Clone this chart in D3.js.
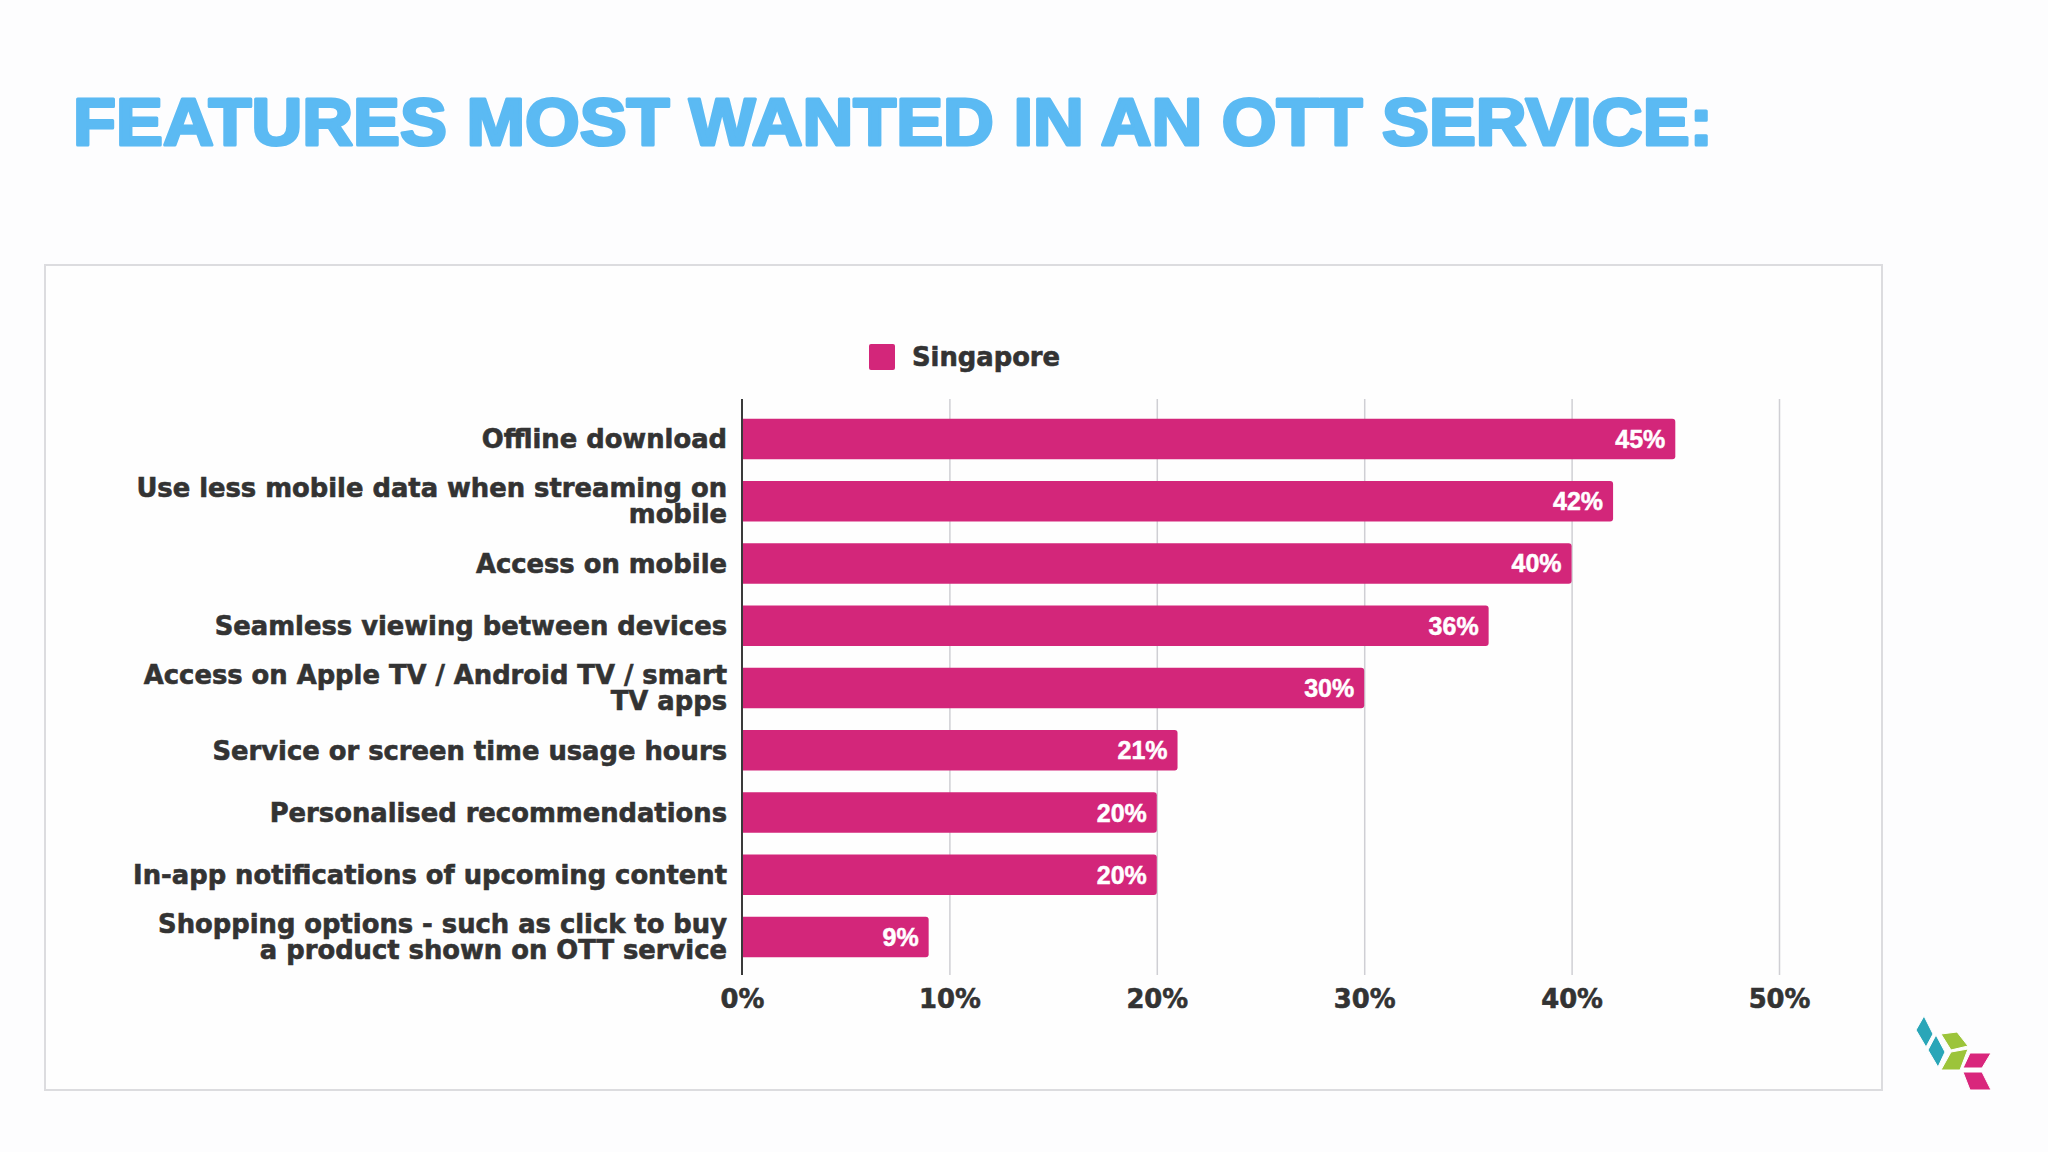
<!DOCTYPE html>
<html>
<head>
<meta charset="utf-8">
<script src="https://cdn.jsdelivr.net/npm/d3@7/dist/d3.min.js"></script>
<style>
  html, body { margin: 0; padding: 0; background: #fdfdfe; }
  svg { display: block; }
</style>
</head>
<body>
<svg id="chart" width="2048" height="1152"></svg>
<script>
const titleText = "FEATURES MOST WANTED IN AN OTT SERVICE:";
const seriesName = "Singapore";
const categories = [
  ["Offline download"],
  ["Use less mobile data when streaming on", "mobile"],
  ["Access on mobile"],
  ["Seamless viewing between devices"],
  ["Access on Apple TV / Android TV / smart", "TV apps"],
  ["Service or screen time usage hours"],
  ["Personalised recommendations"],
  ["In-app notifications of upcoming content"],
  ["Shopping options - such as click to buy", "a product shown on OTT service"]
];
const values = [45, 42, 40, 36, 30, 21, 20, 20, 9];
const xTicks = [0, 10, 20, 30, 40, 50];

const barColor = "#d3267a";
const textColor = "#333333";
const labelFont = "'DejaVu Sans', sans-serif";
const labelSize = 25.8;

const svg = d3.select("#chart");

// Title
svg.append("text")
  .attr("x", 73).attr("y", 145)
  .attr("font-family", "'Liberation Sans', Arial, sans-serif")
  .attr("font-weight", "bold")
  .attr("font-size", 66)
  .attr("fill", "#5bbaf3")
  .attr("stroke", "#5bbaf3").attr("stroke-width", 3).attr("stroke-linejoin", "round")
  .attr("textLength", 1640)
  .attr("lengthAdjust", "spacingAndGlyphs")
  .text(titleText);

// Chart frame
svg.append("rect")
  .attr("x", 45).attr("y", 265)
  .attr("width", 1837).attr("height", 825)
  .attr("fill", "#fefefe")
  .attr("stroke", "#dcdcdf").attr("stroke-width", 2);

const x = d3.scaleLinear().domain([0, 50]).range([742, 1779]);
const y = d3.scaleBand().domain(d3.range(categories.length))
  .range([400, 976]).paddingInner(0.35).paddingOuter(0.3);

// Grid lines
const grid = svg.append("g")
  .attr("transform", `translate(0,975)`)
  .call(d3.axisBottom(x).tickValues(xTicks.slice(1)).tickSize(-576).tickFormat(""));
grid.select(".domain").remove();
grid.selectAll("line").attr("stroke", "#cfcfd4").attr("stroke-width", 1.5);

// Bars
svg.append("g").selectAll("path")
  .data(values)
  .join("path")
  .attr("fill", barColor)
  .attr("d", (d, i) => {
    const x0 = x(0), x1 = x(d), y0 = y(i), h = y.bandwidth(), r = 3;
    return `M${x0},${y0} H${x1 - r} Q${x1},${y0} ${x1},${y0 + r} V${y0 + h - r} Q${x1},${y0 + h} ${x1 - r},${y0 + h} H${x0} Z`;
  });

// Zero axis line
svg.append("line")
  .attr("x1", x(0)).attr("x2", x(0))
  .attr("y1", 399).attr("y2", 975)
  .attr("stroke", "#3a3a3a").attr("stroke-width", 2);

// Value labels
svg.append("g").selectAll("text")
  .data(values)
  .join("text")
  .attr("x", d => x(d) - 10)
  .attr("y", (d, i) => y(i) + y.bandwidth() / 2)
  .attr("dy", "0.36em")
  .attr("text-anchor", "end")
  .attr("font-family", "'Liberation Sans', Arial, sans-serif")
  .attr("font-weight", "bold")
  .attr("font-size", 25)
  .attr("fill", "#ffffff")
  .attr("stroke", "#ffffff").attr("stroke-width", 0.5)
  .text(d => d + "%");

// Category labels
const lab = svg.append("g").selectAll("text")
  .data(categories)
  .join("text")
  .attr("x", 727)
  .attr("y", (d, i) => y(i) + y.bandwidth() / 2)
  .attr("text-anchor", "end")
  .attr("font-family", labelFont)
  .attr("font-weight", "bold")
  .attr("font-size", labelSize)
  .attr("fill", textColor)
  .attr("stroke", textColor).attr("stroke-width", 0.6);
lab.each(function(lines) {
  const t = d3.select(this);
  const lh = 26;
  const start = -(lines.length - 1) * lh / 2;
  lines.forEach((ln, j) => {
    t.append("tspan")
      .attr("x", 727)
      .attr("dy", j === 0 ? (start / labelSize + 0.36) + "em" : lh + "px")
      .text(ln);
  });
});

// X axis tick labels
const xa = svg.append("g")
  .attr("transform", "translate(0,975)")
  .call(d3.axisBottom(x).tickValues(xTicks).tickSize(0).tickPadding(15).tickFormat(d => d + "%"));
xa.select(".domain").remove();
xa.selectAll("text")
  .attr("font-family", labelFont)
  .attr("font-weight", "bold")
  .attr("font-size", labelSize)
  .attr("fill", textColor)
  .attr("stroke", textColor).attr("stroke-width", 0.6);

// Legend
svg.append("rect")
  .attr("x", 869).attr("y", 344)
  .attr("width", 26).attr("height", 26)
  .attr("rx", 2)
  .attr("fill", barColor);
svg.append("text")
  .attr("x", 912).attr("y", 357)
  .attr("dy", "0.36em")
  .attr("font-family", labelFont)
  .attr("font-weight", "bold")
  .attr("font-size", labelSize)
  .attr("fill", textColor)
  .attr("stroke", textColor).attr("stroke-width", 0.6)
  .text(seriesName);

// Logo (decorative)
const logo = svg.append("g");
const shapes = [
  ["#2aa6b8", [[1924,1016],[1933,1034],[1926,1047],[1916,1030]]],
  ["#2aa6b8", [[1936,1035],[1945,1052],[1938,1067],[1928,1050]]],
  ["#9cc43a", [[1941,1034],[1957,1032],[1968,1046],[1951,1050]]],
  ["#9cc43a", [[1951,1052],[1968,1049],[1960,1070],[1941,1070]]],
  ["#d9267c", [[1970,1053],[1991,1053],[1982,1068],[1963,1068]]],
  ["#d9267c", [[1963,1072],[1982,1072],[1991,1090],[1970,1090]]]
];
logo.selectAll("polygon").data(shapes).join("polygon")
  .attr("points", d => d[1].map(p => p.join(",")).join(" "))
  .attr("fill", d => d[0])
  .attr("stroke", "#ffffff").attr("stroke-width", 1)
  .attr("stroke-linejoin", "round");
</script>
</body>
</html>
